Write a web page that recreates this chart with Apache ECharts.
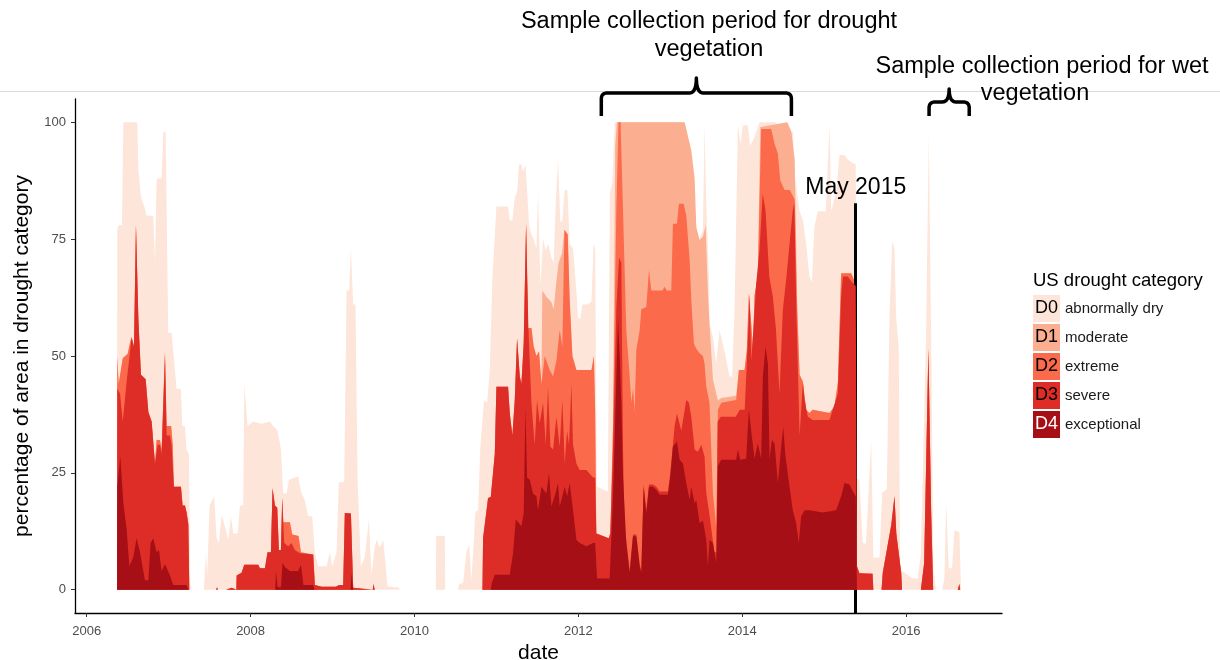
<!DOCTYPE html>
<html>
<head>
<meta charset="utf-8">
<script src="https://cdn.jsdelivr.net/npm/echarts@6/dist/echarts.min.js"></script>
<style>
html,body{margin:0;padding:0;background:#fff;overflow:hidden;}
#chart{position:absolute;left:0;top:0;width:1220px;height:660px;}
</style>
</head>
<body>
<div id="chart"></div>
<script>
// ---------------- data ----------------
const categoryCodes = ['D0', 'D1', 'D2', 'D3', 'D4'];
const categoryLabels = ['abnormally dry', 'moderate', 'extreme', 'severe', 'exceptional'];
const xTicks = [2006, 2008, 2010, 2012, 2014, 2016];
const yTicks = [0, 25, 50, 75, 100];
const mayLineDate = 2015.385;
const mayLineTop = 82.7;
const droughtPeriod = [2012.28, 2014.60];
const wetPeriod = [2016.28, 2016.77];

// [decimal year, percent of area]
const d0 = [[2006.37,0],[2006.373,77],[2006.39,78],[2006.43,78],[2006.447,100],[2006.617,100],[2006.63,90],[2006.662,84],[2006.703,82],[2006.731,80],[2006.812,80],[2006.833,70],[2006.853,88],[2006.914,88],[2006.934,98],[2006.963,98],[2006.995,55],[2007.036,55],[2007.056,51],[2007.097,43],[2007.15,43],[2007.166,35],[2007.199,35],[2007.219,30],[2007.247,29],[2007.264,0],
[2007.43,0],[2007.455,8],[2007.47,3],[2007.5,18],[2007.556,20],[2007.585,11],[2007.614,10],[2007.646,16],[2007.687,13.5],[2007.728,10.7],[2007.76,15.7],[2007.789,12],[2007.842,12],[2007.87,18],[2007.91,18],[2007.923,44],[2007.963,35],[2008.032,36],[2008.134,35.5],[2008.236,36],[2008.276,35],[2008.329,34],[2008.37,30],[2008.398,20.6],[2008.439,20.6],[2008.467,23.5],[2008.54,24],[2008.581,24.2],[2008.614,21],[2008.663,19],[2008.703,15.7],[2008.752,15.7],[2008.784,8],[2008.825,5],[2008.927,5],[2008.967,8],[2008.996,5],[2009.049,8],[2009.077,23],[2009.142,23],[2009.171,64],[2009.203,64],[2009.224,73],[2009.252,61],[2009.28,61],[2009.305,24],[2009.345,5],[2009.374,6],[2009.394,7],[2009.443,15],[2009.476,3],[2009.508,8.5],[2009.537,10.7],[2009.577,9],[2009.618,10.7],[2009.646,5.7],[2009.67,0.7],[2009.76,0.5],[2009.81,0.5],[2009.82,0],
[2010.26,0],[2010.265,11.5],[2010.37,11.5],[2010.375,0],[2010.53,0],[2010.545,1.2],[2010.593,1.4],[2010.634,8],[2010.667,9.6],[2010.695,2],[2010.715,2],[2010.744,16.7],[2010.776,17],[2010.805,31],[2010.85,40.6],[2010.886,40],[2010.919,47],[2010.951,67],[2011.0,82],[2011.142,82],[2011.163,79],[2011.195,79],[2011.224,84],[2011.252,85],[2011.276,91],[2011.305,91],[2011.325,89.4],[2011.354,91],[2011.374,85.5],[2011.398,78],[2011.427,76],[2011.455,75],[2011.488,73],[2011.508,85],[2011.537,65],[2011.569,75],[2011.602,72.6],[2011.63,74],[2011.671,71],[2011.699,70],[2011.724,83],[2011.752,92],[2011.78,78.7],[2011.805,79],[2011.833,85.5],[2011.866,85.5],[2011.894,74],[2011.935,73],[2011.976,64],[2011.996,58],[2012.024,58],[2012.049,61],[2012.098,61],[2012.159,61.5],[2012.187,74],[2012.205,73],[2012.225,22],[2012.36,21],[2012.385,85],[2012.414,87],[2012.443,100],[2013.297,100],[2013.325,97.5],[2013.357,95.4],[2013.398,88],[2013.431,75.5],[2013.479,75],[2013.52,77],[2013.54,99.4],[2013.561,82.6],[2013.593,67],[2013.601,57],[2013.642,54],[2013.682,48.4],[2013.723,55.5],[2013.784,51],[2013.845,45.6],[2013.877,45.6],[2013.906,60],[2013.947,99.4],[2013.979,95.4],[2014.008,99.4],[2014.068,99.4],[2014.097,95],[2014.15,96.9],[2014.211,100],[2014.414,100],[2014.45,98],[2014.62,98],[2014.64,88.6],[2014.70,81],[2014.74,79],[2014.78,74],[2014.82,67],[2014.85,65.8],[2014.88,77.5],[2014.92,81],[2015.02,81],[2015.065,99.6],[2015.085,81],[2015.146,85],[2015.187,93],[2015.248,93],[2015.289,92],[2015.33,91.5],[2015.385,91],[2015.40,23.8],[2015.43,23.5],[2015.47,10],[2015.51,9.8],[2015.53,9.8],[2015.573,32],[2015.6,6.8],[2015.675,6.8],[2015.707,20.8],[2015.764,21.5],[2015.797,58.4],[2015.83,74.6],[2015.858,73],[2015.878,58.4],[2015.91,51.8],[2015.927,4.6],[2015.96,3.9],[2016.08,2.4],[2016.14,2.4],[2016.18,7.5],[2016.244,55],[2016.276,97.4],[2016.305,55],[2016.333,4],[2016.366,0],[2016.44,0],[2016.467,2.4],[2016.488,18.6],[2016.52,4.6],[2016.56,4.6],[2016.59,12.7],[2016.65,12.3],[2016.67,0]];

const d1 = [[2006.37,0],[2006.373,50],[2006.39,44],[2006.41,44],[2006.44,49.5],[2006.5,50.5],[2006.53,53],[2006.548,54],[2006.577,52],[2006.601,78],[2006.63,58],[2006.662,46],[2006.719,45],[2006.752,38],[2006.792,36],[2006.833,27],[2006.853,32],[2006.894,32],[2006.914,30],[2006.955,51],[2006.975,35],[2007.03,35],[2007.05,31],[2007.064,22],[2007.15,22],[2007.17,18],[2007.199,18],[2007.219,16.5],[2007.24,14],[2007.252,0],
[2007.58,0],[2007.59,0.5],[2007.60,0],[2007.70,0],[2007.71,0.4],[2007.77,0.4],[2007.78,0],
[2007.826,0],[2007.83,3],[2007.89,3.6],[2007.923,5.3],[2008.093,5.3],[2008.114,4.6],[2008.175,4.6],[2008.207,8],[2008.248,8],[2008.268,21.7],[2008.297,18],[2008.325,17.5],[2008.345,8.5],[2008.37,8.5],[2008.386,19.6],[2008.398,14.4],[2008.48,14.4],[2008.508,11.8],[2008.585,11.5],[2008.614,8],[2008.764,7.5],[2008.784,1],[2008.866,0.6],[2009.04,0.6],[2009.08,1],[2009.13,1],[2009.15,16.4],[2009.224,16.3],[2009.252,0.4],[2009.26,0],[2009.49,0],[2009.5,1.2],[2009.515,0],
[2010.83,0],[2010.837,11],[2010.898,19.6],[2010.931,19.8],[2010.98,29],[2011.0,43.4],[2011.142,43.4],[2011.163,37.7],[2011.195,33],[2011.224,40.6],[2011.252,53.8],[2011.285,45.6],[2011.305,44],[2011.333,52.7],[2011.362,78.3],[2011.386,56],[2011.427,56],[2011.455,52],[2011.488,50],[2011.52,51],[2011.549,44],[2011.56,64],[2011.61,62.7],[2011.671,61.5],[2011.699,60],[2011.732,66],[2011.76,70],[2011.80,72],[2011.83,77],[2011.87,76],[2011.894,62],[2011.927,50],[2011.976,47],[2012.16,47],[2012.19,50],[2012.205,38],[2012.219,12],[2012.37,11],[2012.39,12],[2012.423,35],[2012.45,95],[2012.47,100],[2013.297,100],[2013.325,98],[2013.378,94],[2013.419,88],[2013.439,77.6],[2013.48,74.8],[2013.52,75.5],[2013.553,78],[2013.58,64],[2013.6,57],[2013.642,45],[2013.682,42],[2013.703,40.5],[2013.743,41],[2013.926,41.5],[2013.959,47],[2014.028,47],[2014.056,51.3],[2014.081,63.4],[2014.109,57],[2014.13,52],[2014.15,63],[2014.19,67],[2014.22,99],[2014.55,100],[2014.6,98],[2014.64,92],[2014.67,62],[2014.70,46],[2014.74,44.5],[2014.78,38.5],[2014.82,37.8],[2014.86,38.5],[2015.065,37.8],[2015.126,39.3],[2015.167,44.4],[2015.207,67.7],[2015.33,67.7],[2015.358,66.5],[2015.385,66.5],[2015.40,5],
[2015.43,3.5],[2015.59,3.4],[2015.60,0],[2015.70,0],[2015.715,3.6],[2015.82,14],[2015.858,20],[2015.88,12],[2015.94,3.6],[2015.95,0],[2016.18,0],[2016.22,5.7],[2016.272,51.5],[2016.305,17],[2016.33,0],[2016.63,0],[2016.65,1.2],[2016.66,0]];

const d2 = [[2006.37,0],[2006.373,50],[2006.39,44],[2006.41,44],[2006.44,49.5],[2006.5,50.5],[2006.53,53],[2006.548,54],[2006.577,52],[2006.601,78],[2006.63,58],[2006.662,46],[2006.719,45],[2006.752,38],[2006.792,36],[2006.833,27],[2006.853,32],[2006.894,32],[2006.914,30],[2006.955,51],[2006.975,35],[2007.03,35],[2007.05,31],[2007.064,22],[2007.15,22],[2007.17,18],[2007.199,18],[2007.219,16.5],[2007.24,14],[2007.252,0],
[2007.58,0],[2007.59,0.5],[2007.60,0],[2007.70,0],[2007.71,0.4],[2007.77,0.4],[2007.78,0],
[2007.826,0],[2007.83,3],[2007.89,3.6],[2007.923,5.3],[2008.093,5.3],[2008.114,4.6],[2008.175,4.6],[2008.207,8],[2008.248,8],[2008.268,21.7],[2008.297,18],[2008.325,17.5],[2008.345,8.5],[2008.37,8.5],[2008.386,19.6],[2008.398,14.4],[2008.48,14.4],[2008.508,11.8],[2008.585,11.5],[2008.614,8],[2008.764,7.5],[2008.784,1],[2008.866,0.6],[2009.04,0.6],[2009.08,1],[2009.13,1],[2009.15,16.4],[2009.224,16.3],[2009.252,0.4],[2009.26,0],[2009.49,0],[2009.5,1.2],[2009.515,0],
[2010.83,0],[2010.837,11],[2010.898,19.6],[2010.931,19.8],[2010.98,29],[2011.0,43.4],[2011.142,43.4],[2011.163,37.7],[2011.195,33],[2011.224,40.6],[2011.252,53.8],[2011.285,45.6],[2011.305,44],[2011.333,52.7],[2011.362,78.3],[2011.386,56],[2011.427,56],[2011.455,52],[2011.488,50],[2011.52,51],[2011.549,44],[2011.59,50],[2011.65,47],[2011.691,45.6],[2011.732,49],[2011.772,55.5],[2011.805,52],[2011.83,77],[2011.87,76],[2011.894,62],[2011.927,50],[2011.976,47],[2012.16,47],[2012.19,50],[2012.205,38],[2012.219,12],[2012.37,11],[2012.39,12],[2012.423,35],[2012.463,81],[2012.49,100],[2012.515,100],[2012.545,81],[2012.585,55.5],[2012.626,45.6],[2012.646,40],[2012.667,43],[2012.687,38],[2012.707,51.3],[2012.748,55.5],[2012.768,60],[2012.829,60.5],[2012.862,68.4],[2012.89,64],[2013.028,64],[2013.05,64.8],[2013.08,64],[2013.134,64],[2013.154,78.3],[2013.203,78.3],[2013.227,82.6],[2013.285,82.6],[2013.317,80],[2013.358,70.5],[2013.378,62],[2013.41,52.7],[2013.44,51.5],[2013.48,50.6],[2013.52,50],[2013.54,48.4],[2013.561,43.4],[2013.6,40],[2013.642,20.7],[2013.682,13.5],[2013.703,38.5],[2013.743,40],[2013.926,40.6],[2013.959,47],[2014.028,47],[2014.056,51.3],[2014.081,63.4],[2014.109,57],[2014.13,52],[2014.15,63],[2014.19,67],[2014.231,98.6],[2014.353,98.6],[2014.394,95.4],[2014.435,93.3],[2014.463,87.6],[2014.516,85.5],[2014.58,85.5],[2014.64,83.5],[2014.67,60],[2014.70,46],[2014.74,44.5],[2014.78,38.5],[2014.82,37.8],[2014.86,38.5],[2015.065,37.8],[2015.126,39.3],[2015.167,44.4],[2015.207,67.7],[2015.33,67.7],[2015.358,66.5],[2015.385,66.5],[2015.40,5],
[2015.43,3.5],[2015.59,3.4],[2015.60,0],[2015.70,0],[2015.715,3.6],[2015.82,14],[2015.858,20],[2015.88,12],[2015.94,3.6],[2015.95,0],[2016.18,0],[2016.22,5.7],[2016.272,51.5],[2016.305,17],[2016.33,0],[2016.63,0],[2016.65,1.2],[2016.66,0]];

const d3 = [[2006.37,0],[2006.373,43],[2006.406,42],[2006.44,36],[2006.46,36],[2006.49,45],[2006.51,48],[2006.548,54],[2006.577,52],[2006.601,78],[2006.63,58],[2006.662,46],[2006.719,45],[2006.752,38],[2006.792,36],[2006.833,27],[2006.865,31],[2006.894,31],[2006.914,29],[2006.955,50],[2006.975,33],[2007.016,33],[2007.036,31],[2007.064,22],[2007.15,22],[2007.17,18],[2007.199,18],[2007.219,16.5],[2007.24,14],[2007.252,0],
[2007.58,0],[2007.59,0.5],[2007.60,0],[2007.70,0],[2007.71,0.4],[2007.77,0.4],[2007.78,0],
[2007.826,0],[2007.83,3],[2007.89,3.6],[2007.923,5.3],[2008.093,5.3],[2008.114,4.6],[2008.175,4.6],[2008.207,8],[2008.248,8],[2008.268,21.7],[2008.297,18],[2008.325,17.5],[2008.345,8.5],[2008.37,8.5],[2008.386,19.6],[2008.41,10],[2008.459,9.3],[2008.5,10],[2008.54,8.5],[2008.601,7.8],[2008.764,7.5],[2008.784,1],[2008.866,0.6],[2009.04,0.6],[2009.08,1],[2009.13,1],[2009.15,16.4],[2009.224,16.3],[2009.252,0.4],[2009.26,0],[2009.49,0],[2009.5,1.2],[2009.515,0],
[2010.83,0],[2010.837,11],[2010.898,19.6],[2010.931,19.8],[2010.98,29],[2011.0,43.4],[2011.142,43.4],[2011.163,37.7],[2011.195,33],[2011.224,40.6],[2011.252,53.8],[2011.285,45.6],[2011.305,44],[2011.333,52.7],[2011.362,78.3],[2011.39,56],[2011.427,40],[2011.467,31],[2011.496,40.6],[2011.528,35.6],[2011.569,40],[2011.602,31],[2011.63,43.4],[2011.659,30.6],[2011.691,30],[2011.732,37],[2011.772,30.6],[2011.805,40.6],[2011.833,27],[2011.862,34],[2011.886,31],[2011.915,44],[2011.935,31],[2011.976,27],[2012.016,25.6],[2012.098,25.6],[2012.179,24],[2012.205,24],[2012.219,12],[2012.37,11],[2012.39,12],[2012.423,30],[2012.463,60],[2012.496,71],[2012.524,70],[2012.545,30],[2012.565,12],[2012.585,10.5],[2012.626,4],[2012.667,11.8],[2012.707,11.8],[2012.748,5.5],[2012.768,4],[2012.797,22.5],[2012.829,17],[2012.862,22.5],[2012.911,22.5],[2012.951,22],[2012.992,21],[2013.093,21],[2013.122,25],[2013.175,35],[2013.203,37.7],[2013.256,34],[2013.317,40.6],[2013.35,40],[2013.378,37],[2013.419,30],[2013.459,29.5],[2013.5,31],[2013.54,28.5],[2013.561,20.7],[2013.60,16],[2013.63,12],[2013.66,8],[2013.685,8],[2013.70,36],[2013.74,37],[2013.92,37],[2013.97,38.5],[2014.03,38.5],[2014.07,54],[2014.09,63.4],[2014.11,49],[2014.13,54],[2014.17,65.5],[2014.21,72.6],[2014.25,84.8],[2014.285,81],[2014.33,67],[2014.373,62.7],[2014.41,56],[2014.455,42],[2014.495,59.8],[2014.54,67],[2014.577,74],[2014.617,81.2],[2014.635,82.7],[2014.66,60],[2014.70,33],[2014.74,44.4],[2014.76,40.7],[2014.80,37],[2014.86,36.3],[2015.065,36.3],[2015.167,42],[2015.207,62.8],[2015.228,67],[2015.289,67],[2015.33,66],[2015.385,65],[2015.40,5],
[2015.43,3.5],[2015.59,3.4],[2015.60,0],[2015.70,0],[2015.715,3.6],[2015.82,14],[2015.858,20],[2015.88,12],[2015.94,3.6],[2015.95,0],[2016.18,0],[2016.22,5.7],[2016.272,51.5],[2016.305,17],[2016.33,0],[2016.63,0],[2016.65,1.2],[2016.66,0]];

const d4 = [[2006.37,0],[2006.373,22],[2006.41,28.5],[2006.447,18.5],[2006.487,13],[2006.52,5],[2006.569,7],[2006.609,11],[2006.65,8],[2006.711,2],[2006.752,2],[2006.78,10],[2006.812,11],[2006.853,8],[2006.882,8.5],[2006.914,4],[2006.955,5.5],[2007.016,3],[2007.056,1],[2007.219,1],[2007.24,0],
[2008.30,0],[2008.31,4],[2008.33,0.5],[2008.37,0.5],[2008.39,5.7],[2008.42,4.8],[2008.48,4],[2008.58,4],[2008.614,5.3],[2008.645,1],[2008.764,1],[2008.78,0],[2009.22,0],[2009.232,3.5],[2009.25,0],
[2010.93,0],[2010.945,1.5],[2010.98,3.2],[2011.163,3.2],[2011.203,7.8],[2011.236,15],[2011.276,14.2],[2011.305,13.5],[2011.333,16.4],[2011.354,39],[2011.374,24],[2011.407,23.5],[2011.447,20.6],[2011.488,20],[2011.508,17],[2011.549,22],[2011.569,22],[2011.61,20.6],[2011.642,25],[2011.671,17.8],[2011.711,20],[2011.752,22.8],[2011.772,17.8],[2011.813,20.6],[2011.833,22],[2011.862,20],[2011.894,22.8],[2011.935,17],[2011.976,10.7],[2012.016,10],[2012.098,9.3],[2012.179,10],[2012.205,10],[2012.228,2.4],[2012.382,2.4],[2012.423,20],[2012.463,45],[2012.484,58],[2012.504,50],[2012.524,40],[2012.545,24],[2012.585,10],[2012.626,3.6],[2012.667,11.4],[2012.707,11.4],[2012.748,5],[2012.768,3.6],[2012.797,22],[2012.829,16.4],[2012.862,22],[2012.911,22],[2012.951,21.4],[2012.992,20.3],[2013.093,20.3],[2013.122,24.2],[2013.154,30.6],[2013.203,31.7],[2013.236,27.8],[2013.276,27],[2013.317,22.8],[2013.358,19.2],[2013.378,22],[2013.419,18.5],[2013.439,19.2],[2013.48,14.2],[2013.52,14.8],[2013.561,10.7],[2013.581,5],[2013.601,10.7],[2013.642,10],[2013.683,5.7],[2013.703,26.4],[2013.743,27.8],[2013.926,27.8],[2013.947,30],[2013.975,27.8],[2014.048,28],[2014.081,38.5],[2014.109,34],[2014.15,28],[2014.19,31.3],[2014.231,28],[2014.252,45.6],[2014.284,52],[2014.313,48.4],[2014.333,27.8],[2014.361,32],[2014.394,31.3],[2014.435,22.8],[2014.475,30.6],[2014.5,34.8],[2014.528,28.5],[2014.577,22],[2014.617,17],[2014.658,14.2],[2014.69,10],[2014.719,15.7],[2014.76,17],[2014.821,17],[2014.983,16.5],[2015.146,17],[2015.207,20],[2015.248,22.8],[2015.309,22.5],[2015.35,21],[2015.385,20],[2015.40,0]];

// ---------------- chart ----------------
const seriesData = [d0, d1, d2, d3, d4];
const colors = ['#fee5d9', '#fcae91', '#fb6a4a', '#de2d26', '#a50f15'];
const boxText = ['#000', '#000', '#000', '#000', '#fff'];
const FONT = '"Liberation Sans", Arial, Helvetica, sans-serif';

const chart = echarts.init(document.getElementById('chart'), null, {renderer: 'canvas', width: 1220, height: 660});

const rich = {t: {fontSize: 15, color: '#1a1a1a', fontFamily: FONT, padding: [0, 0, 0, 5]}};
categoryCodes.forEach((c, i) => {
  rich['b' + i] = {backgroundColor: colors[i], width: 27, height: 27, lineHeight: 27,
    align: 'center', fontSize: 18, color: boxText[i], fontFamily: FONT};
});

const series = categoryCodes.map((c, i) => ({
  type: 'line', name: c, data: seriesData[i],
  showSymbol: false, symbol: 'none', silent: true,
  lineStyle: {width: 0}, itemStyle: {color: colors[i]},
  areaStyle: {color: colors[i], opacity: 1},
  z: 2 + i
}));
series[4].markLine = {
  silent: true, symbol: ['none', 'none'], animation: false,
  lineStyle: {color: '#000', width: 3, type: 'solid'},
  label: {show: true, position: 'end', formatter: 'May 2015', fontSize: 23, color: '#000', fontFamily: FONT, distance: 4},
  data: [[{coord: [mayLineDate, -5]}, {coord: [mayLineDate, mayLineTop]}]]
};

const option = {
  animation: false,
  textStyle: {fontFamily: FONT},
  title: {text: 'US drought category', left: 1033, top: 271, padding: 0,
    textStyle: {fontSize: 18.5, fontWeight: 'normal', color: '#000', fontFamily: FONT}},
  legend: {
    orient: 'vertical', left: 1028, top: 295, icon: 'none', itemWidth: 0, itemHeight: 27,
    itemGap: 2, selectedMode: false, data: categoryCodes, padding: 0,
    formatter: name => {
      const i = categoryCodes.indexOf(name);
      return '{b' + i + '|' + name + '}{t|' + categoryLabels[i] + '}';
    },
    textStyle: {rich: rich}
  },
  grid: {left: 75, right: 218, top: 99, bottom: 47, containLabel: false, outerBoundsMode: 'none'},
  xAxis: {
    type: 'value', min: 2005.857, max: 2017.17,
    name: 'date', nameLocation: 'middle', nameGap: 29,
    nameTextStyle: {fontSize: 21, color: '#000', fontFamily: FONT},
    axisLine: {show: true, onZero: false, lineStyle: {color: '#000', width: 1.3}},
    axisTick: {show: true, length: 4, customValues: xTicks, lineStyle: {color: '#333'}},
    axisLabel: {customValues: xTicks, formatter: v => String(v), fontSize: 13, color: '#4d4d4d', margin: 12, fontFamily: FONT},
    splitLine: {show: false}
  },
  yAxis: {
    type: 'value', min: -5, max: 105,
    name: 'percentage of area in drought category', nameLocation: 'middle', nameGap: 42,
    nameTextStyle: {fontSize: 21, color: '#000', fontFamily: FONT},
    axisLine: {show: true, onZero: false, lineStyle: {color: '#000', width: 1.3}},
    axisTick: {show: true, length: 4, customValues: yTicks, lineStyle: {color: '#333'}},
    axisLabel: {customValues: yTicks, fontSize: 13, color: '#4d4d4d', margin: 9, fontFamily: FONT},
    splitLine: {show: false}
  },
  series: series
};
chart.setOption(option);

// ---------------- annotations ----------------
function px(year) { return chart.convertToPixel({xAxisIndex: 0}, year); }
function quad(pts, p0, p1, p2) {
  for (let k = 1; k <= 8; k++) {
    const t = k / 8, u = 1 - t;
    pts.push([u * u * p0[0] + 2 * u * t * p1[0] + t * t * p2[0],
              u * u * p0[1] + 2 * u * t * p1[1] + t * t * p2[1]]);
  }
}
function bracePoints(x1, x2, yBar, yPeak, yBottom) {
  const xm = (x1 + x2) / 2, r = 6, s = 7;
  const pts = [[x1, yBottom], [x1, yBar + r]];
  quad(pts, [x1, yBar + r], [x1, yBar], [x1 + r, yBar]);
  pts.push([xm - s, yBar]);
  quad(pts, [xm - s, yBar], [xm, yBar], [xm, yPeak]);
  quad(pts, [xm, yPeak], [xm, yBar], [xm + s, yBar]);
  pts.push([x2 - r, yBar]);
  quad(pts, [x2 - r, yBar], [x2, yBar], [x2, yBar + r]);
  pts.push([x2, yBottom]);
  return pts;
}
function txt(x, y, s) {
  return {type: 'text', x: x, y: y, z: 100, silent: true,
    style: {text: s, fontSize: 23.5, fontFamily: FONT, fill: '#000',
      textAlign: 'center', textVerticalAlign: 'middle', align: 'center', verticalAlign: 'middle'}};
}
const dx1 = px(droughtPeriod[0]), dx2 = px(droughtPeriod[1]);
const wx1 = px(wetPeriod[0]), wx2 = px(wetPeriod[1]);
chart.setOption({
  graphic: [
    {type: 'line', silent: true, z: 50, shape: {x1: 0, y1: 91.5, x2: 1220, y2: 91.5}, style: {stroke: '#d9d9d9', lineWidth: 1}},
    {type: 'polyline', silent: true, z: 100, shape: {points: bracePoints(dx1, dx2, 93, 78, 116)}, style: {stroke: '#000', lineWidth: 3.5, fill: null, lineJoin: 'round'}},
    {type: 'polyline', silent: true, z: 100, shape: {points: bracePoints(wx1, wx2, 102, 89, 116)}, style: {stroke: '#000', lineWidth: 3.5, fill: null, lineJoin: 'round'}},
    txt(709, 22, 'Sample collection period for drought'),
    txt(709, 50, 'vegetation'),
    txt(1042, 67, 'Sample collection period for wet'),
    txt(1035, 94, 'vegetation')
  ]
});
</script>
</body>
</html>
